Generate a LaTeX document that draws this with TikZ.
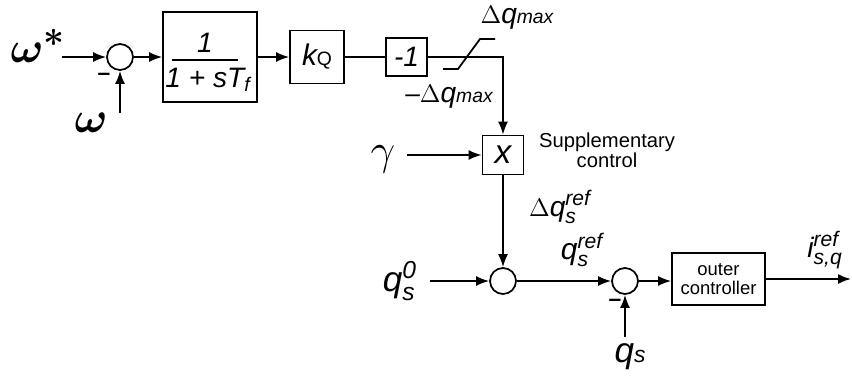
\documentclass[tikz,border=0pt]{standalone}
\usepackage{fontspec}
\setmainfont{Liberation Sans}
\usetikzlibrary{arrows.meta}
\newcommand{\fs}[1]{\fontsize{#1}{#1}\selectfont}
\newcommand{\sq}[4][12]{\textit{#2}$^{\mbox{\fs{#1}\itshape #3}}_{\mbox{\fs{#1}\itshape #4}}$}
\tikzset{
  blk/.style  ={draw, line width=1pt, inner sep=0pt},
  sumc/.style ={draw, circle, line width=1pt, minimum size=5.2mm, inner sep=0pt},
  ln/.style   ={draw, line width=1pt, -{Latex[length=2.6mm,width=2mm]}},
  lnp/.style  ={draw, line width=1pt},
  lbl/.style  ={inner sep=0pt, font=\fs{16}\itshape},
  grk/.style  ={inner sep=0pt, font=\fs{30}\boldmath},
  neg/.style  ={inner sep=0pt, font=\fs{13}\bfseries},
  txt/.style  ={inner sep=0pt, font=\fs{11}, align=center},
}

\begin{document}
\begin{tikzpicture}[x=0.02cm,y=-0.02cm]
    \useasboundingbox (0,0) rectangle (852,382);

    \node[sumc] (s1) at (120,57) {};
    \node[blk,minimum width=1.88cm,minimum height=1.8cm] (tf) at (210,57) {};
    \node[blk,minimum width=1.08cm,minimum height=1.06cm] (kq) at (317,57)
      {\fs{17}\itshape k{\fs{11}\upshape Q}};
    \node[blk,minimum width=0.82cm,minimum height=0.76cm] (neg) at (406.5,57) {\fs{16}\itshape -1};
    \node[blk,minimum width=0.82cm,minimum height=0.78cm] (mult) at (503,155) {\fs{19}\itshape x};
    \node[sumc] (s2) at (503,281) {};
    \node[sumc] (s3) at (625,281) {};
    \node[blk,minimum width=1.86cm,minimum height=1.04cm,txt,font=\fs{10.5}] (outer) at (718.5,279) {outer\\controller};

    \node[lbl] (num) at (205,43) {1};
    \node[lbl] (den) at (208,80) {1 + sT\textsubscript{f}};
    \draw[lnp] (172,60) -- (238,60);

    \node[grk] (wstar) at (38,46) {$\omega^{*}$};
    \node[grk] (wmeas) at (91,123) {$\omega$};
    \node[neg] (m1) at (104,77) {--};
    \node[lbl] (dqmax) at (517,18) {{\fs{15}$\Delta$}q{\fs{11}max}};
    \node[lbl] (ndqmax) at (449,97) {{\fs{15}--$\Delta$}q{\fs{11}max}};
    \node[grk,font=\fs{30}] (gam) at (383,159) {$\gamma$};
    \node[txt,font=\fs{11.5}] (supp) at (607,150) {Supplementary\\control};
    \node[lbl] (dqsref) at (560,207) {{\fs{15}$\Delta$}\sq{q}{ref}{s}};
    \node[lbl,font=\fs{20}\itshape] (qs0) at (400,281) {\sq[14]{q}{0}{s}};
    \node[lbl,font=\fs{17}\itshape] (qsref) at (582,250) {\sq{q}{ref}{s}};
    \node[neg] (m2) at (615,303) {--};
    \node[lbl,font=\fs{20}\itshape] (qs) at (630,357) {q{\fs{13}s}};
    \node[lbl] (isq) at (825,250) {\sq{i}{ref}{s,q}};

    \coordinate (wsin) at (62,57);
    \coordinate (wmin) at (120,113);
    \coordinate (gin) at (407,155);
    \coordinate (q0in) at (430,281);
    \coordinate (qsin) at (625,337);
    \coordinate (iout) at (851,279);

    \draw[ln] (wsin) -- (s1.west);
    \draw[ln] (wmin) -- (s1.south);
    \draw[ln] (s1.east) -- (tf.west);
    \draw[ln] (tf.east) -- (kq.west);
    \draw[lnp] (kq.east) -- (neg.west);
    \draw[ln] (neg.east) -| (mult.north);
    \draw[lnp] (443,69) -- (458,69) -- (480,39) -- (495,39);
    \draw[ln] (gin) -- (mult.west);
    \draw[ln] (mult.south) -- (s2.north);
    \draw[ln] (q0in) -- (s2.west);
    \draw[ln] (s2.east) -- (s3.west);
    \draw[ln] (qsin) -- (s3.south);
    \draw[ln] (s3.east) -- (outer.west |- s3.east);
    \draw[ln] (outer.east) -- (iout);
  \end{tikzpicture}
\end{document}
